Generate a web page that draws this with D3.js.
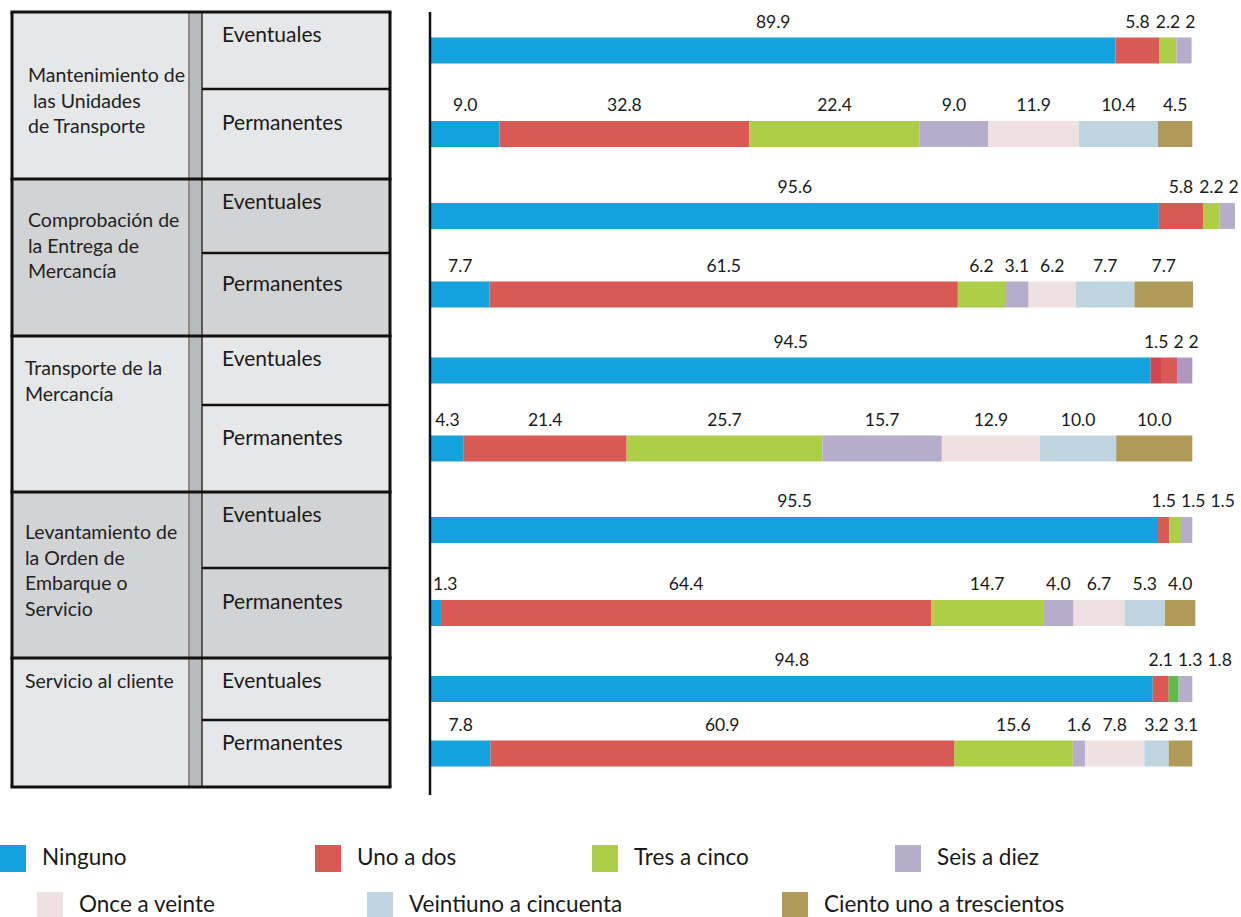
<!DOCTYPE html>
<html>
<head>
<meta charset="utf-8">
<script src="https://cdn.jsdelivr.net/npm/d3@7"></script>
<style>
  html, body { margin: 0; padding: 0; background: #fff; }
  svg { display: block; font-family: Lato, "Open Sans", sans-serif; }
</style>
</head>
<body>
<svg id="chart" width="1241" height="917"></svg>
<script>
// ---- Data ----------------------------------------------------------------
const groups = [
  ["Mantenimiento de", " las Unidades", "de Transporte"],
  ["Comprobación de", "la Entrega de", "Mercancía"],
  ["Transporte de la", "Mercancía"],
  ["Levantamiento de", "la Orden de", "Embarque o", "Servicio"],
  ["Servicio al cliente"]
];
const workerTypes = ["Eventuales", "Permanentes"];

const seriesNames = [
  "Ninguno", "Uno a dos", "Tres a cinco", "Seis a diez",
  "Once a veinte", "Veintiuno a cincuenta", "Ciento uno a trescientos"
];

// one entry per bar (group × worker type), values as printed
const ninguno     = ["89.9", "9.0", "95.6", "7.7", "94.5", "4.3", "95.5", "1.3", "94.8", "7.8"];
const unoADos     = ["5.8", "32.8", "5.8", "61.5", "1.5", "21.4", "1.5", "64.4", "2.1", "60.9"];
const tresACinco  = ["2.2", "22.4", "2.2", "6.2", "2", "25.7", "1.5", "14.7", "1.3", "15.6"];
const seisADiez   = ["2", "9.0", "2", "3.1", "2", "15.7", "1.5", "4.0", "1.8", "1.6"];
const onceAVeinte = [null, "11.9", null, "6.2", null, "12.9", null, "6.7", null, "7.8"];
const veintiunoA  = [null, "10.4", null, "7.7", null, "10.0", null, "5.3", null, "3.2"];
const cientoUnoA  = [null, "4.5", null, "7.7", null, "10.0", null, "4.0", null, "3.1"];

const seriesValues = [ninguno, unoADos, tresACinco, seisADiez, onceAVeinte, veintiunoA, cientoUnoA];

// ---- Styling / layout ------------------------------------------------------
const colors = ["#13a2db", "#d95954", "#adce49", "#b6adcb", "#efe1e1", "#bed4e1", "#b09a59"];
// a few segments carry their own shade
const segmentShade = { "4-1": "#d1464f", "4-2": "#d95954", "4-3": "#ae98bf", "8-2": "#60bb4f" };

const rowHeights = [77, 90, 74, 83, 69, 87, 76, 90, 62, 67];
const groupFills = ["#e6e7e9", "#d2d3d5", "#e6e7e9", "#d2d3d5", "#e6e7e9"];
const groupTextTop = [70, 48, 39, 47, 30];
const groupTextX = [28, 28, 25, 25, 25];

const tableTop = 12, tableLeft = 12, colSplit = 188, stripRight = 202, tableRight = 390;
const barHeight = 26;

const svg = d3.select("#chart");

// row boundaries
const rowTops = [];
let acc = tableTop;
rowHeights.forEach(h => { rowTops.push(acc); acc += h; });
const tableBottom = acc;
const rowCenter = i => rowTops[i] + rowHeights[i] / 2;

// ---- Left table --------------------------------------------------------------
const table = svg.append("g");
groups.forEach((lines, g) => {
  const top = rowTops[g * 2];
  const h = rowHeights[g * 2] + rowHeights[g * 2 + 1];
  table.append("rect")
    .attr("x", tableLeft).attr("y", top)
    .attr("width", tableRight - tableLeft).attr("height", h)
    .attr("fill", groupFills[g]);
  lines.forEach((ln, k) => {
    table.append("text")
      .attr("x", groupTextX[g]).attr("y", top + groupTextTop[g] + k * 25.5)
      .attr("font-size", 19.5).attr("fill", "#222")
      .attr("xml:space", "preserve")
      .style("white-space", "pre")
      .text(ln);
  });
});

// grey strip between the columns
table.append("rect")
  .attr("x", colSplit).attr("y", tableTop)
  .attr("width", stripRight - colSplit).attr("height", tableBottom - tableTop)
  .attr("fill", "#b9babc");
table.append("line")
  .attr("x1", colSplit + 1).attr("x2", colSplit + 1)
  .attr("y1", tableTop).attr("y2", tableBottom)
  .attr("stroke", "#8a8a8a").attr("stroke-width", 2);
table.append("line")
  .attr("x1", stripRight).attr("x2", stripRight)
  .attr("y1", tableTop).attr("y2", tableBottom)
  .attr("stroke", "#333").attr("stroke-width", 1.5);

// worker-type labels and inner dividers
rowTops.forEach((top, i) => {
  const type = workerTypes[i % 2];
  const y = i % 2 === 0 ? top + 30 : rowCenter(i) - 4;
  table.append("text")
    .attr("x", 222).attr("y", y)
    .attr("font-size", 21).attr("fill", "#1a1a1a")
    .text(type);
  if (i % 2 === 1) {
    table.append("line")
      .attr("x1", stripRight).attr("x2", tableRight)
      .attr("y1", top).attr("y2", top)
      .attr("stroke", "#111").attr("stroke-width", 2.5);
  }
});

// group borders and outer frame
groups.forEach((_, g) => {
  const y = rowTops[g * 2];
  table.append("line")
    .attr("x1", tableLeft - 1.5).attr("x2", tableRight + 1.5)
    .attr("y1", y).attr("y2", y)
    .attr("stroke", "#111").attr("stroke-width", 3);
});
table.append("line")
  .attr("x1", tableLeft - 1.5).attr("x2", tableRight + 1.5)
  .attr("y1", tableBottom).attr("y2", tableBottom)
  .attr("stroke", "#111").attr("stroke-width", 3);
[tableLeft, tableRight].forEach(x => {
  table.append("line")
    .attr("x1", x).attr("x2", x)
    .attr("y1", tableTop).attr("y2", tableBottom)
    .attr("stroke", "#111").attr("stroke-width", 3);
});

// ---- Stacked bars ------------------------------------------------------------
const x = d3.scaleLinear().domain([0, 106]).range([431, 1238]);

const rows = ninguno.map((_, i) => {
  let start = 0;
  const segs = [];
  seriesValues.forEach((arr, s) => {
    const label = arr[i];
    if (label === null) return;
    const v = +label;
    segs.push({ row: i, s, label, x0: start, x1: start + v });
    start += v;
  });
  return segs;
});

const bars = svg.append("g");
rows.forEach((segs, i) => {
  const yTop = rowCenter(i) - barHeight / 2;
  bars.selectAll(null)
    .data(segs)
    .join("rect")
    .attr("x", d => x(d.x0))
    .attr("y", yTop)
    .attr("width", d => x(d.x1) - x(d.x0))
    .attr("height", barHeight)
    .attr("fill", d => segmentShade[`${i}-${d.s}`] || colors[d.s]);

  // value labels above segments, nudged apart when they would collide
  const labels = bars.selectAll(null)
    .data(segs)
    .join("text")
    .attr("y", yTop - 10)
    .attr("font-size", 17.5)
    .attr("fill", "#1a1a1a")
    .attr("text-anchor", "start")
    .text(d => d.label);
  const items = [];
  labels.each(function(d) {
    const w = this.getComputedTextLength();
    items.push({ el: this, w, left: (x(d.x0) + x(d.x1)) / 2 - w / 2 });
  });
  items[0].left = Math.max(items[0].left, x(0) + 2);
  for (let k = 1; k < items.length; k++) {
    const prev = items[k - 1];
    items[k].left = Math.max(items[k].left, prev.left + prev.w + 5);
  }
  const limit = 1239;
  const last = items[items.length - 1];
  if (last.left + last.w > limit) {
    last.left = limit - last.w;
    for (let k = items.length - 2; k >= 0; k--) {
      items[k].left = Math.min(items[k].left, items[k + 1].left - items[k].w - 5);
    }
  }
  items.forEach(it => d3.select(it.el).attr("x", it.left));
});

// vertical baseline
svg.append("line")
  .attr("x1", x(0) - 1).attr("x2", x(0) - 1)
  .attr("y1", tableTop).attr("y2", 795)
  .attr("stroke", "#111").attr("stroke-width", 2.5);

// ---- Legend -------------------------------------------------------------------
const legendPos = [
  [0, 845], [315, 845], [592, 845], [895, 845],
  [37, 892], [367, 892], [782, 892]
];
const legend = svg.append("g");
seriesNames.forEach((name, s) => {
  const [lx, ly] = legendPos[s];
  legend.append("rect")
    .attr("x", lx).attr("y", ly)
    .attr("width", 26).attr("height", Math.min(27, 917 - ly))
    .attr("fill", colors[s]);
  legend.append("text")
    .attr("x", lx + 42).attr("y", ly + 20)
    .attr("font-size", 22.5).attr("fill", "#1a1a1a")
    .text(name);
});
</script>
</body>
</html>
